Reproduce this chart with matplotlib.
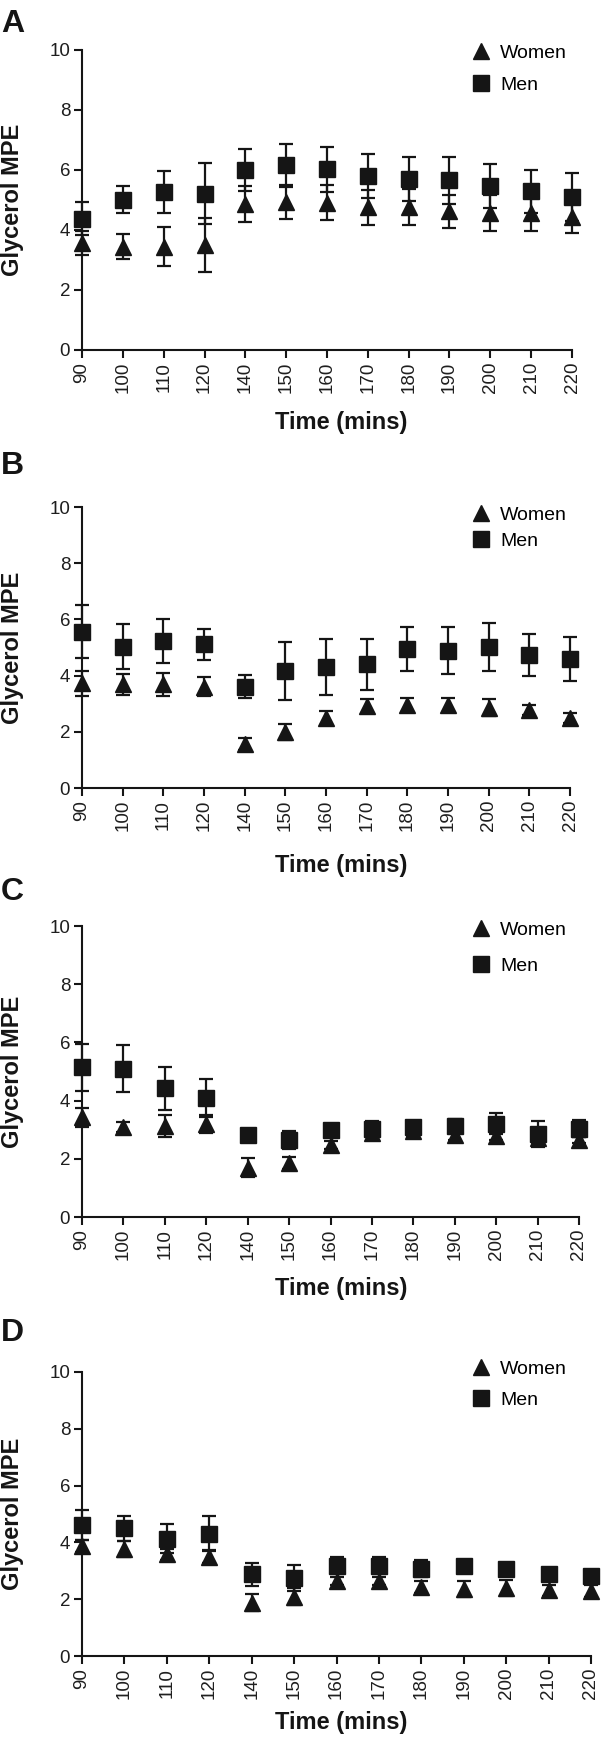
import numpy as np
import matplotlib.pyplot as plt
from matplotlib.lines import Line2D

plt.rcParams['font.family'] = ['Liberation Sans', 'DejaVu Sans']

times = ['90', '100', '110', '120', '140', '150', '160', '170', '180', '190', '200', '210', '220']

# panel A
women_a = [3.57, 3.44, 3.44, 3.51, 4.86, 4.93, 4.91, 4.75, 4.75, 4.63, 4.55, 4.55, 4.43]
women_a_err = [0.41, 0.42, 0.65, 0.90, 0.60, 0.58, 0.58, 0.57, 0.60, 0.55, 0.60, 0.57, 0.52]
men_a = [4.38, 5.01, 5.27, 5.21, 5.99, 6.15, 6.02, 5.80, 5.69, 5.65, 5.47, 5.29, 5.10]
men_a_err = [0.55, 0.44, 0.70, 1.02, 0.70, 0.72, 0.74, 0.74, 0.74, 0.78, 0.74, 0.72, 0.80]

# panel B
women_b = [3.73, 3.69, 3.69, 3.61, 1.57, 1.98, 2.49, 2.93, 2.96, 2.96, 2.86, 2.78, 2.49]
women_b_err = [0.45, 0.38, 0.40, 0.35, 0.22, 0.28, 0.25, 0.25, 0.25, 0.25, 0.30, 0.18, 0.18]
men_b = [5.56, 5.03, 5.23, 5.11, 3.61, 4.17, 4.32, 4.40, 4.95, 4.89, 5.03, 4.73, 4.59]
men_b_err = [0.95, 0.79, 0.78, 0.56, 0.40, 1.03, 1.00, 0.92, 0.79, 0.85, 0.85, 0.75, 0.79]

# panel C
women_c = [3.42, 3.10, 3.13, 3.21, 1.70, 1.86, 2.47, 2.90, 2.95, 2.81, 2.78, 2.70, 2.64]
women_c_err = [0.34, 0.17, 0.37, 0.31, 0.33, 0.20, 0.15, 0.15, 0.15, 0.15, 0.15, 0.15, 0.10]
men_c = [5.14, 5.10, 4.42, 4.09, 2.81, 2.64, 2.98, 3.04, 3.10, 3.13, 3.21, 2.84, 3.04]
men_c_err = [0.82, 0.80, 0.74, 0.66, 0.20, 0.32, 0.15, 0.25, 0.20, 0.25, 0.35, 0.45, 0.30]

# panel D
women_d = [3.87, 3.77, 3.58, 3.49, 1.88, 2.08, 2.64, 2.64, 2.43, 2.37, 2.38, 2.31, 2.29]
women_d_err = [0.22, 0.27, 0.20, 0.23, 0.30, 0.30, 0.15, 0.15, 0.20, 0.28, 0.28, 0.20, 0.20]
men_d = [4.60, 4.49, 4.13, 4.30, 2.87, 2.75, 3.17, 3.17, 3.08, 3.17, 3.07, 2.90, 2.81]
men_d_err = [0.53, 0.43, 0.52, 0.62, 0.40, 0.45, 0.30, 0.30, 0.30, 0.20, 0.20, 0.15, 0.15]

panels = [
    ('A', women_a, women_a_err, men_a, men_a_err),
    ('B', women_b, women_b_err, men_b, men_b_err),
    ('C', women_c, women_c_err, men_c, men_c_err),
    ('D', women_d, women_d_err, men_d, men_d_err),
]

W, H = 606, 1742
fig = plt.figure(figsize=(W / 100, H / 100), dpi=100)

# axes boxes in pixels: left, right, top, bottom
boxes = [(82, 572, 50, 350), (82, 570, 507, 788), (82, 579, 926, 1217), (82, 591, 1372, 1656)]
letter_y = [24, 466, 892, 1333]
xlabel_y = [423, 865, 1288, 1722]
legend_top = [44, 506, 921, 1360]
legend_gap = [0.75, 0.45, 0.95, 0.7]

col = '#151515'

for (letter, wy, we, my, me), (l, r, t, b), ly, xy, lt, lg in zip(
        panels, boxes, letter_y, xlabel_y, legend_top, legend_gap):
    ax = fig.add_axes([l / W, 1 - b / H, (r - l) / W, (b - t) / H])
    ax.errorbar(times, wy, yerr=we, fmt='^', color=col, ms=12, capsize=5,
                elinewidth=1.6, capthick=1.6, clip_on=False, zorder=3)
    ax.errorbar(times, my, yerr=me, fmt='s', color=col, ms=11, capsize=5,
                elinewidth=1.6, capthick=1.6, clip_on=False, zorder=4)
    ax.set_xlim(0, 12)
    ax.set_ylim(0, 10)
    ax.set_yticks([0, 2, 4, 6, 8, 10])
    for s in ['top', 'right']:
        ax.spines[s].set_visible(False)
    for s in ['left', 'bottom']:
        ax.spines[s].set_linewidth(1.5)
        ax.spines[s].set_color(col)
    ax.tick_params(axis='both', length=5.5, width=1.5, color=col, labelsize=13.5,
                   labelcolor='#1e1e1e', pad=3)
    ax.tick_params(axis='x', labelrotation=90)

    ax.set_ylabel('Glycerol MPE', fontsize=17, fontweight='bold', va='center', color=col)
    ax.yaxis.set_label_coords((13 - l) / (r - l), 0.5)
    ax.set_xlabel('Time (mins)', fontsize=17, fontweight='bold', va='center', color=col)
    ax.xaxis.set_label_coords((341 - l) / (r - l), -(xy - b) / (b - t))

    fig.text(1 / W, 1 - ly / H, letter, fontsize=23, fontweight='bold', va='center', ha='left', color=col)

    handles = [Line2D([], [], marker='^', ls='none', color=col, ms=12),
               Line2D([], [], marker='s', ls='none', color=col, ms=11)]
    fig.legend(handles, ['Women', 'Men'], loc='upper left', bbox_to_anchor=(471 / W, 1 - lt / H),
               frameon=False, fontsize=14, handlelength=1.0, handletextpad=0.5,
               borderpad=0, borderaxespad=0, labelspacing=lg)

fig.savefig('out.png', dpi=100)
